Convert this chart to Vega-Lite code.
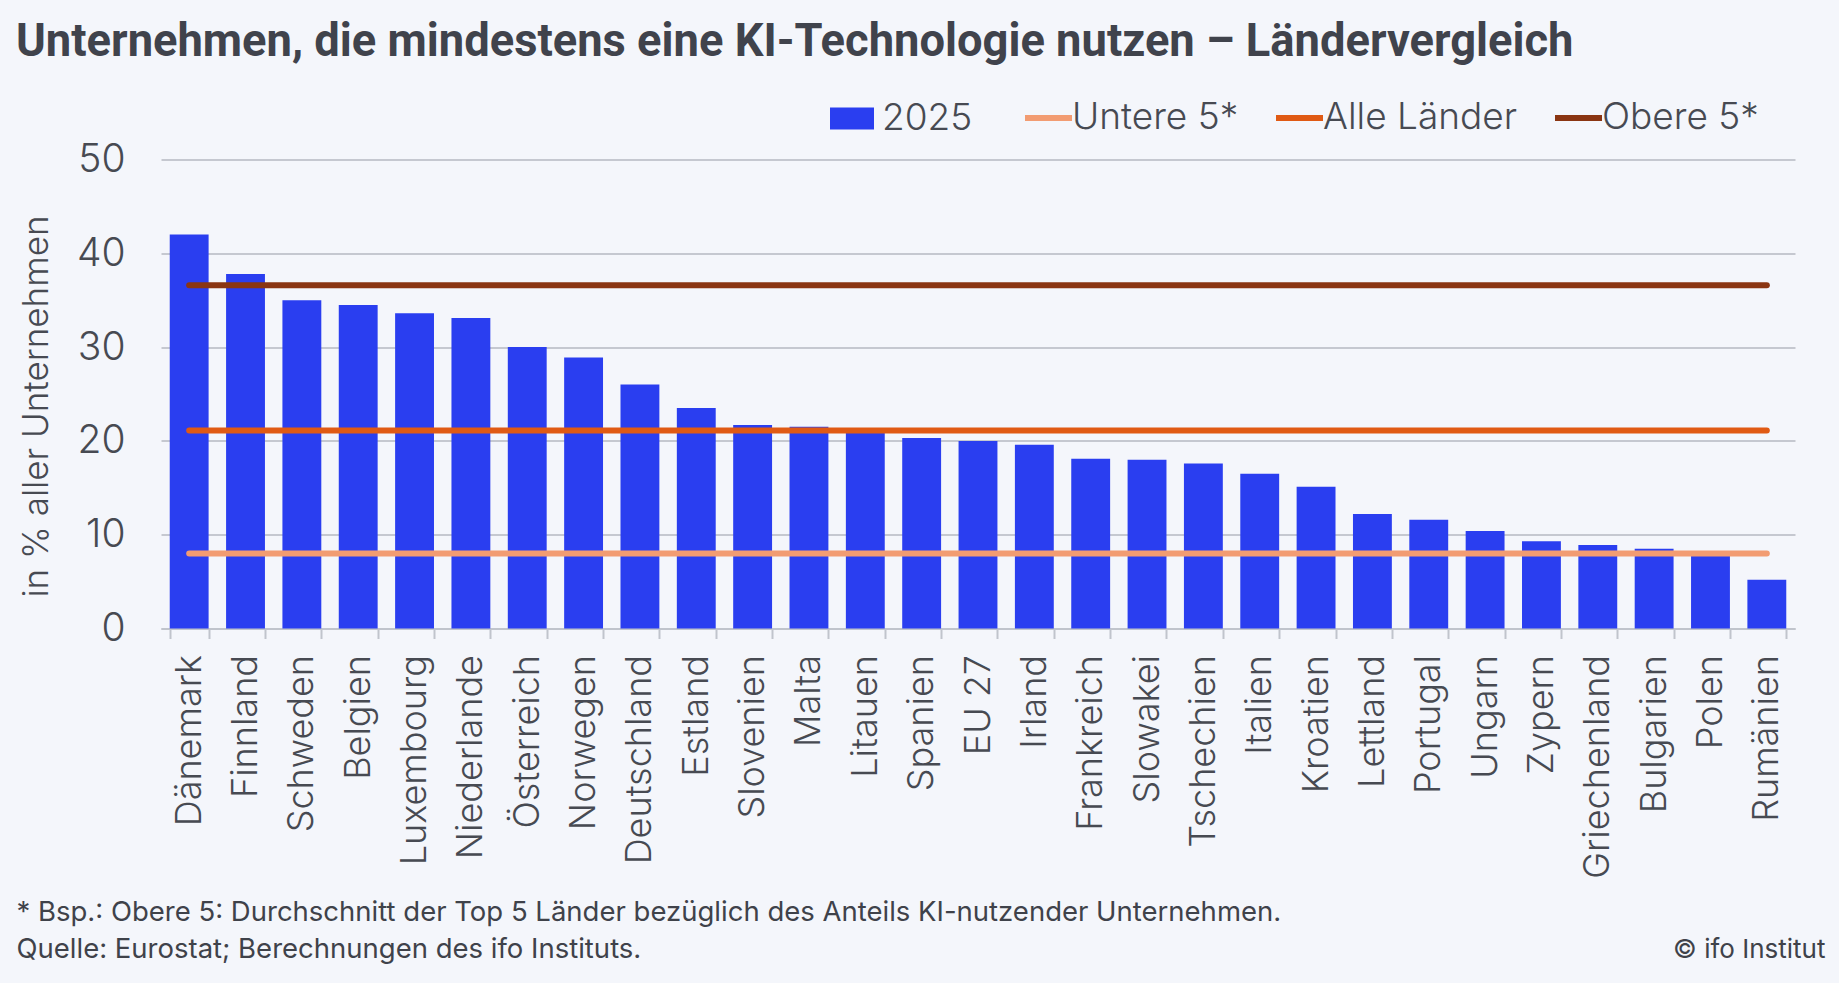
{
  "$schema": "https://vega.github.io/schema/vega-lite/v6.json",
  "autosize": {"type": "none"},
  "width": 1634,
  "height": 469,
  "padding": {"left": 161, "top": 159.5, "right": 44, "bottom": 354.5},
  "background": "#f4f6fb",
  "title": {
    "text": "Unternehmen, die mindestens eine KI-Technologie nutzen – Ländervergleich",
    "anchor": "start",
    "frame": "group",
    "dx": -145,
    "dy": 14,
    "font": "Roboto",
    "fontSize": 45.3,
    "fontWeight": "bold",
    "color": "#40434c",
    "offset": 40
  },
  "config": {
    "view": {"stroke": null},
    "font": "Inter",
    "axis": {"labelFont": "Inter", "titleFont": "Inter"},
    "legend": {"labelFont": "Inter"}
  },
  "data": {
    "values": [
      {"Land": "Dänemark", "Wert": 42.0, "untere": 8.0, "alle": 21.1, "obere": 36.6},
      {"Land": "Finnland", "Wert": 37.8, "untere": 8.0, "alle": 21.1, "obere": 36.6},
      {"Land": "Schweden", "Wert": 35.0, "untere": 8.0, "alle": 21.1, "obere": 36.6},
      {"Land": "Belgien", "Wert": 34.5, "untere": 8.0, "alle": 21.1, "obere": 36.6},
      {"Land": "Luxembourg", "Wert": 33.6, "untere": 8.0, "alle": 21.1, "obere": 36.6},
      {"Land": "Niederlande", "Wert": 33.1, "untere": 8.0, "alle": 21.1, "obere": 36.6},
      {"Land": "Österreich", "Wert": 30.0, "untere": 8.0, "alle": 21.1, "obere": 36.6},
      {"Land": "Norwegen", "Wert": 28.9, "untere": 8.0, "alle": 21.1, "obere": 36.6},
      {"Land": "Deutschland", "Wert": 26.0, "untere": 8.0, "alle": 21.1, "obere": 36.6},
      {"Land": "Estland", "Wert": 23.5, "untere": 8.0, "alle": 21.1, "obere": 36.6},
      {"Land": "Slovenien", "Wert": 21.7, "untere": 8.0, "alle": 21.1, "obere": 36.6},
      {"Land": "Malta", "Wert": 21.5, "untere": 8.0, "alle": 21.1, "obere": 36.6},
      {"Land": "Litauen", "Wert": 21.0, "untere": 8.0, "alle": 21.1, "obere": 36.6},
      {"Land": "Spanien", "Wert": 20.3, "untere": 8.0, "alle": 21.1, "obere": 36.6},
      {"Land": "EU 27", "Wert": 20.0, "untere": 8.0, "alle": 21.1, "obere": 36.6},
      {"Land": "Irland", "Wert": 19.6, "untere": 8.0, "alle": 21.1, "obere": 36.6},
      {"Land": "Frankreich", "Wert": 18.1, "untere": 8.0, "alle": 21.1, "obere": 36.6},
      {"Land": "Slowakei", "Wert": 18.0, "untere": 8.0, "alle": 21.1, "obere": 36.6},
      {"Land": "Tschechien", "Wert": 17.6, "untere": 8.0, "alle": 21.1, "obere": 36.6},
      {"Land": "Italien", "Wert": 16.5, "untere": 8.0, "alle": 21.1, "obere": 36.6},
      {"Land": "Kroatien", "Wert": 15.1, "untere": 8.0, "alle": 21.1, "obere": 36.6},
      {"Land": "Lettland", "Wert": 12.2, "untere": 8.0, "alle": 21.1, "obere": 36.6},
      {"Land": "Portugal", "Wert": 11.6, "untere": 8.0, "alle": 21.1, "obere": 36.6},
      {"Land": "Ungarn", "Wert": 10.4, "untere": 8.0, "alle": 21.1, "obere": 36.6},
      {"Land": "Zypern", "Wert": 9.3, "untere": 8.0, "alle": 21.1, "obere": 36.6},
      {"Land": "Griechenland", "Wert": 8.9, "untere": 8.0, "alle": 21.1, "obere": 36.6},
      {"Land": "Bulgarien", "Wert": 8.5, "untere": 8.0, "alle": 21.1, "obere": 36.6},
      {"Land": "Polen", "Wert": 8.0, "untere": 8.0, "alle": 21.1, "obere": 36.6},
      {"Land": "Rumänien", "Wert": 5.2, "untere": 8.0, "alle": 21.1, "obere": 36.6}
    ]
  },
  "resolve": {"axis": {"x": "independent", "y": "independent"}},
  "layer": [
    {
      "mark": {"type": "bar"},
      "encoding": {
        "x": {
          "field": "Land",
          "type": "nominal",
          "sort": null,
          "scale": {"paddingInner": 0.31, "paddingOuter": 0.155},
          "axis": {
            "orient": "bottom",
            "labelAngle": -90,
            "labelAlign": "right",
            "labelBaseline": "middle",
            "labelFontSize": 36,
            "labelFontWeight": 300,
            "labelColor": "#474a52",
            "labelPadding": 16,
            "labelOverlap": false,
            "labelLimit": 400,
            "tickBand": "extent",
            "ticks": true,
            "tickSize": 10,
            "tickWidth": 2,
            "tickColor": "#c0c4cc",
            "domain": true,
            "domainColor": "#c0c4cc",
            "domainWidth": 2,
            "grid": false,
            "title": ["* Bsp.: Obere 5: Durchschnitt der Top 5 Länder bezüglich des Anteils KI-nutzender Unternehmen.", "Quelle: Eurostat; Berechnungen des ifo Instituts."],
            "titleFontSize": 27.5,
            "titleFontWeight": "normal",
            "titleColor": "#3f424a",
            "titleAlign": "left",
            "titleAnchor": "start",
            "titleBaseline": "alphabetic",
            "titleX": -145,
            "titleY": 291.5,
            "titleLineHeight": 37,
            "titleLimit": 2000
          }
        },
        "y": {
          "field": "Wert",
          "type": "quantitative",
          "scale": {"domain": [0, 50], "nice": false},
          "axis": {
            "values": [0, 10, 20, 30, 40, 50],
            "domain": false,
            "ticks": false,
            "grid": true,
            "gridColor": "#c5c8d0",
            "gridWidth": 2,
            "labelFontSize": 39,
            "labelFontWeight": 300,
            "labelColor": "#474a52",
            "labelPadding": 36,
            "title": "in % aller Unternehmen",
            "titleFontSize": 35,
            "titleFontWeight": 300,
            "titleColor": "#474a52",
            "titleAngle": 270,
            "titleAlign": "center",
            "titleBaseline": "alphabetic",
            "titleX": -114,
            "titleY": 246.5,
            "titleLimit": 1000
          }
        },
        "fill": {
          "datum": "2025",
          "type": "nominal",
          "scale": {"range": ["#2a3ef0"]},
          "legend": {
            "orient": "none",
            "legendX": 669,
            "legendY": -63,
            "direction": "horizontal",
            "title": null,
            "padding": 0,
            "symbolType": "M-1,-0.5H1V0.5H-1Z",
            "symbolSize": 1936,
            "symbolStrokeWidth": 0,
            "labelFontSize": 37,
            "labelFontWeight": 300,
            "labelColor": "#474a52",
            "labelOffset": 8,
            "labelLimit": 400
          }
        }
      }
    },
    {
      "transform": [
        {"fold": ["untere", "alle", "obere"], "as": ["Reihe", "Mittel"]}
      ],
      "mark": {"type": "line", "strokeWidth": 6, "strokeCap": "round"},
      "encoding": {
        "x": {
          "field": "Land",
          "type": "nominal",
          "sort": null,
          "axis": {
            "orient": "bottom",
            "labels": false,
            "ticks": false,
            "domain": false,
            "grid": false,
            "title": "© ifo Institut",
            "titleFontSize": 26,
            "titleFontWeight": "normal",
            "titleColor": "#3f424a",
            "titleAlign": "right",
            "titleAnchor": "end",
            "titleBaseline": "alphabetic",
            "titleX": 1664,
            "titleY": 328.5
          }
        },
        "y": {"field": "Mittel", "type": "quantitative", "axis": null},
        "detail": {"field": "Reihe"},
        "stroke": {
          "field": "Reihe",
          "type": "nominal",
          "scale": {"domain": ["untere", "alle", "obere"], "range": ["#f29c72", "#e05a14", "#8a3512"]},
          "legend": {
            "orient": "none",
            "legendX": 861,
            "legendY": -68,
            "direction": "horizontal",
            "gridAlign": "none",
            "title": null,
            "padding": 0,
            "symbolType": "stroke",
            "symbolSize": 2209,
            "symbolStrokeWidth": 6,
            "labelFontSize": 37,
            "labelFontWeight": 300,
            "labelColor": "#474a52",
            "labelOffset": -3,
            "labelLimit": 400,
            "columnPadding": 25,
            "labelExpr": "datum.label == 'untere' ? 'Untere 5*' : datum.label == 'alle' ? 'Alle Länder' : 'Obere 5*'"
          }
        }
      }
    }
  ]
}
